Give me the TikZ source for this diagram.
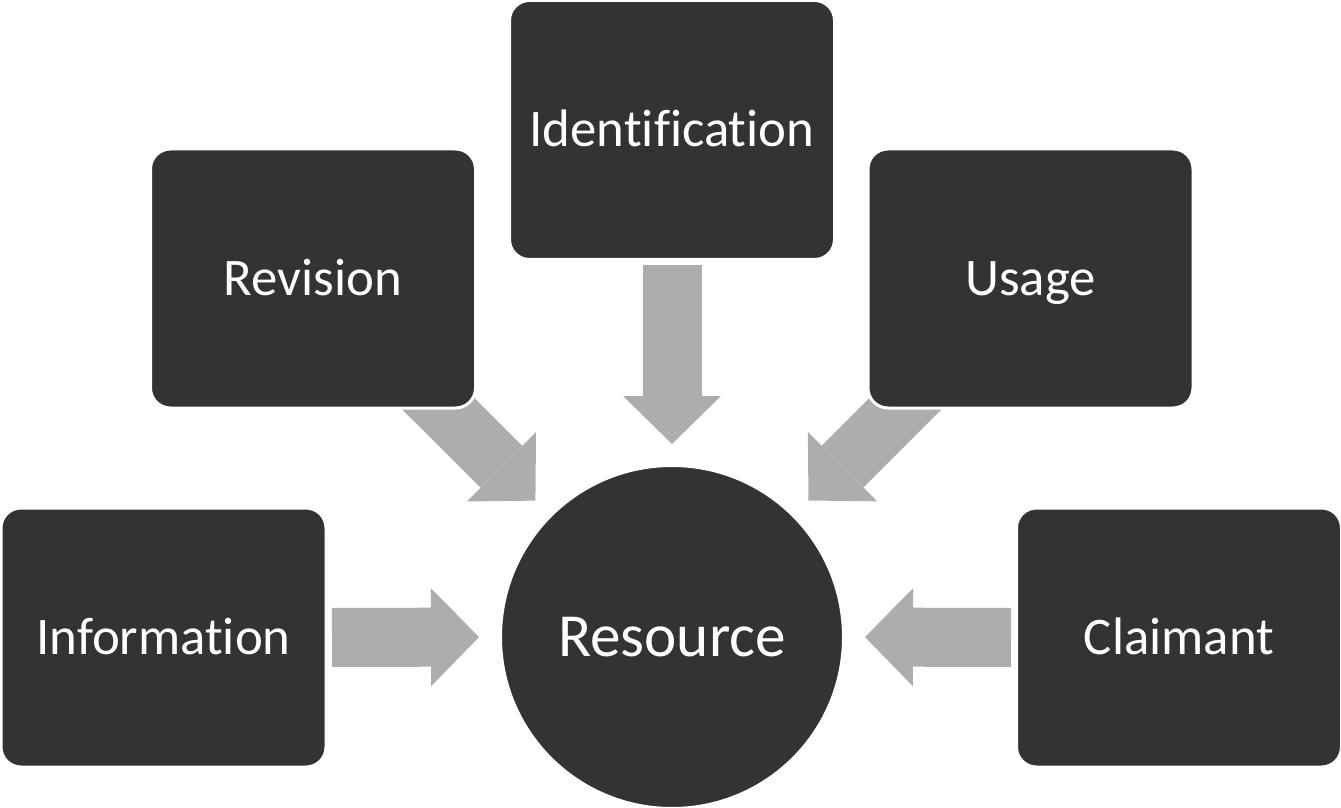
\documentclass[tikz,border=0pt]{standalone}
\usepackage{fontspec}
\setmainfont{Carlito}[Ligatures=NoCommon]
\usetikzlibrary{arrows.meta,backgrounds}

\definecolor{boxgray}{RGB}{51,51,51}
\definecolor{arrowgray}{RGB}{173,173,173}

\tikzset{
    box/.style={rectangle, rounded corners=10pt, fill=boxgray, draw=white, line width=1.5pt,
        minimum width=162.5pt, minimum height=129.5pt, text=white,
        font=\fontsize{26.4pt}{30pt}\selectfont, text height=17pt, text depth=0pt},
    hub/.style={circle, fill=boxgray, draw=white, line width=1.5pt, minimum size=171.5pt,
        text=white, font=\fontsize{30.6pt}{36pt}\selectfont, text height=19.7pt, text depth=0pt},
    bigarrow/.style={draw=arrowgray, line width=29.5pt,
        -{Triangle[width=49pt,length=24pt,line width=0pt]}, shorten >=10pt}
}

\begin{document}
\begin{tikzpicture}[x=0.5pt,y=-0.5pt]

\useasboundingbox (0,0) rectangle (1341,808);

\node[hub] (res) at (672,637) {Resource};

\foreach \nm/\x/\y/\lbl in {iden/672/130/Identification, rev/313/278.5/Revision,
    use/1030.5/278.5/Usage, info/163.5/637.5/Information, claim/1179/637.5/Claimant}
{
    \node[box] (\nm) at (\x,\y) {\lbl};
}

\begin{scope}[on background layer]
    \foreach \nm/\gap in {iden/2.25pt, info/2.25pt, claim/2pt, rev/-25pt, use/-25pt}
    {
        \draw[bigarrow, shorten <=\gap] (\nm) -- (res);
    }
\end{scope}

\end{tikzpicture}
\end{document}
